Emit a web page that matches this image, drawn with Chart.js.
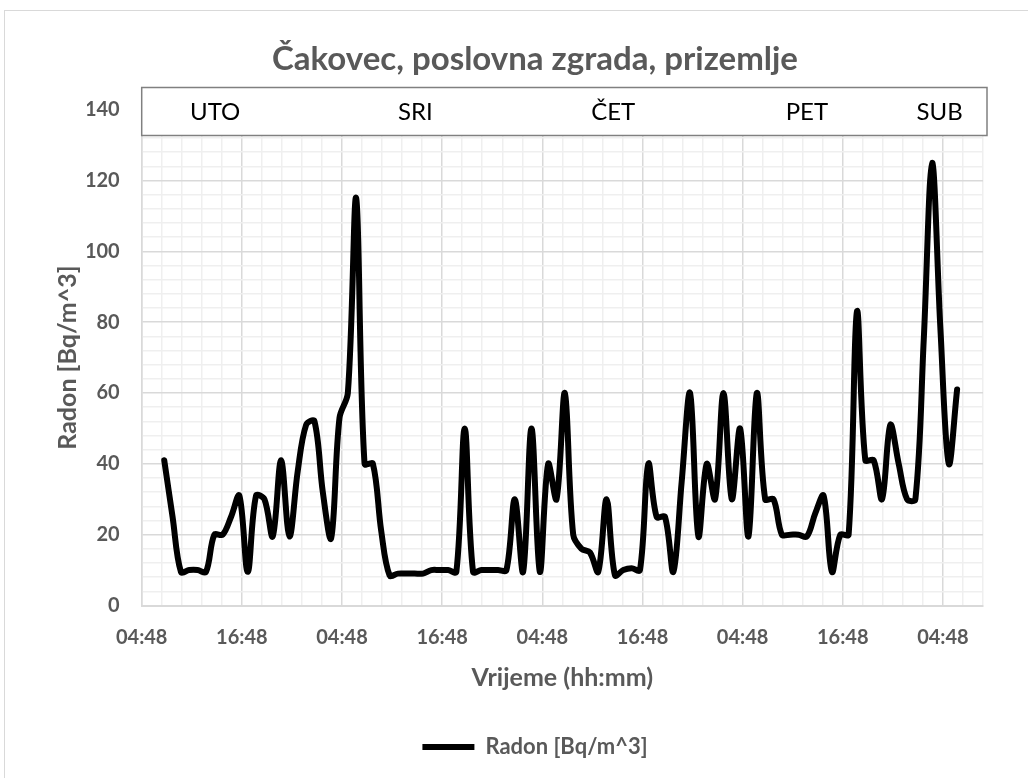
<!DOCTYPE html>
<html>
<head>
<meta charset="utf-8">
<title>Čakovec, poslovna zgrada, prizemlje</title>
<script src="https://cdn.jsdelivr.net/npm/chart.js@4.4.1/dist/chart.umd.min.js"></script>
<style>
    html, body { margin: 0; padding: 0; background: #fff; overflow: hidden; }
    #frame { position: absolute; left: 4px; top: 10px; width: 1100px; height: 820px; border: 1px solid #d9d9d9; }
    #wrap { position: absolute; left: 0; top: 0; width: 1028px; height: 778px; }
</style>
</head>
<body>
<div id="frame"></div>
<div id="wrap"><canvas id="radonChart" width="1028" height="778"></canvas></div>
<script>
// ============ Radon, Čakovec ============

// hourly readings, first one at 07:30 on Tuesday
const START_HOUR = 7.5;   // hours after Tue 00:00
const STEP_HOURS = 1;
const radon = [
    41, 25, 9.5, 10, 10, 9.5, 20, 20, 25, 31,
    9.5, 31, 30, 19.5, 41, 19.5, 38, 51, 52, 32,
    19, 53, 60, 115, 40, 40, 21, 8.5, 9, 9,
    9, 9, 10, 10, 10, 9.5, 50, 9.5, 10, 10,
    10, 10, 30, 9.5, 50, 9.5, 40, 30, 60, 20,
    16, 15, 9.5, 30, 8.5, 10, 10.5, 10, 40, 25,
    25, 9.5, 35, 60, 19.5, 40, 30, 60, 30, 50,
    19.5, 60, 30, 30, 20, 20, 20, 19.5, 26, 31,
    9.5, 20, 20, 83, 41, 41, 30, 51, 40, 30,
    30, 75, 125, 78, 40, 61
];

// x axis: 04:48 Tue .. 09:36 Sat, minor step 0.1 day
const AXIS_MIN_H = 4.8;
const AXIS_MAX_H = 105.6;
const MINOR_STEP_H = 2.4;

// day names in the box above the plot (hours after Tue 00:00)
const dayNames = ['UTO', 'SRI', 'ČET', 'PET', 'SUB'];
const dayLabelHours = [13.6, 37.6, 61.3, 84.5, 100.4];

const TEXT = '#595959';
const MAJOR_GRID = '#d9d9d9';
const MINOR_GRID = '#efefef';
const FONT = "Lato, 'Open Sans', sans-serif";

function hhmm(h) {
    const mins = Math.round((h % 24) * 60);
    const hh = Math.floor(mins / 60), mm = mins % 60;
    return String(hh).padStart(2, '0') + ':' + String(mm).padStart(2, '0');
}

const gridHours = [];
for (let h = AXIS_MIN_H; h <= AXIS_MAX_H + 0.01; h += MINOR_STEP_H) gridHours.push(+h.toFixed(2));

const points = radon.map((v, i) => ({ x: START_HOUR + i * STEP_HOURS, y: v }));

// ---------- day box (white strip with day names) ----------
const dayBox = {
    id: 'dayBox',
    afterDraw(chart) {
        const { ctx, chartArea, scales: { x, y } } = chart;
        const top = Math.round(y.getPixelForValue(146.3)) + 0.5;
        const bottom = Math.round(y.getPixelForValue(132.8)) + 0.5;
        const left = chartArea.left;
        const right = chartArea.right + 4;
        ctx.save();
        ctx.fillStyle = '#fff';
        ctx.fillRect(left, top, right - left, bottom - top);
        ctx.strokeStyle = '#808080';
        ctx.lineWidth = 1.5;
        ctx.strokeRect(left, top, right - left, bottom - top);
        ctx.fillStyle = '#000';
        ctx.font = '24px ' + FONT;
        ctx.textAlign = 'center';
        ctx.textBaseline = 'middle';
        dayNames.forEach((name, i) => {
            ctx.fillText(name, x.getPixelForValue(dayLabelHours[i]), (top + bottom) / 2 + 1);
        });
        ctx.restore();
    }
};

new Chart(document.getElementById('radonChart'), {
    type: 'line',
    data: {
        datasets: [{
            label: 'Radon [Bq/m^3]',
            data: points,
            borderColor: '#000',
            backgroundColor: '#000',
            borderWidth: 6,
            borderCapStyle: 'round',
            borderJoinStyle: 'round',
            pointRadius: 0,
            tension: 0.35,
            fill: false,
        }]
    },
    options: {
        responsive: false,
        animation: false,
        // left pad is wider so title and legend sit where the original has them
        layout: { padding: { left: 87, right: 45, top: 0, bottom: 10 } },
        plugins: {
            title: {
                display: true,
                text: 'Čakovec, poslovna zgrada, prizemlje',
                color: TEXT,
                font: { family: FONT, size: 33, weight: 'bold' },
                padding: { top: 40, bottom: 30 }
            },
            legend: {
                position: 'bottom',
                labels: {
                    usePointStyle: true,
                    pointStyle: 'line',
                    pointStyleWidth: 52,
                    color: TEXT,
                    font: { family: FONT, size: 22, weight: 'bold' },
                    padding: 10
                }
            },
            tooltip: { enabled: false }
        },
        scales: {
            x: {
                type: 'linear',
                min: AXIS_MIN_H,
                max: AXIS_MAX_H,
                afterBuildTicks: (s) => { s.ticks = gridHours.map(v => ({ value: v })); },
                afterFit: (s) => { s.height = 120.5; },
                ticks: {
                    autoSkip: false,
                    maxRotation: 0,
                    padding: 20,
                    color: TEXT,
                    font: { family: FONT, size: 20, weight: 'bold' },
                    callback: (v, i) => i % 5 === 0 ? hhmm(v) : ''
                },
                grid: {
                    drawTicks: false,
                    lineWidth: 1.5,
                    color: (c) => c.index % 5 === 0 ? MAJOR_GRID : MINOR_GRID
                },
                border: { color: MAJOR_GRID, width: 2 },
                title: {
                    display: true,
                    text: 'Vrijeme (hh:mm)',
                    color: TEXT,
                    font: { family: FONT, size: 25, weight: 'bold' },
                    padding: { top: 4, bottom: 33 }
                }
            },
            y: {
                min: 0,
                max: 140,
                afterFit: (s) => { s.width = 54.7; },
                ticks: {
                    stepSize: 4,
                    autoSkip: false,
                    padding: 22,
                    color: TEXT,
                    font: { family: FONT, size: 20, weight: 'bold' },
                    callback: (v) => v % 20 === 0 ? v : ''
                },
                grid: {
                    drawTicks: false,
                    lineWidth: 1.5,
                    color: (c) => c.tick.value % 20 === 0 ? MAJOR_GRID : MINOR_GRID
                },
                border: { color: MAJOR_GRID, width: 1.5 },
                title: {
                    display: true,
                    text: 'Radon [Bq/m^3]',
                    color: TEXT,
                    font: { family: FONT, size: 25, weight: 'bold' },
                    padding: { top: -34, bottom: 0 }
                }
            }
        }
    },
    plugins: [dayBox]
});
</script>
</body>
</html>
